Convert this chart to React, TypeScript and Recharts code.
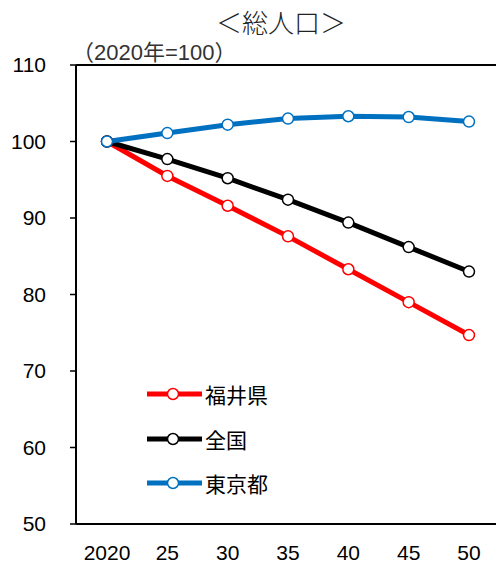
import { LineChart, Line, XAxis, YAxis, ReferenceLine, Legend } from 'recharts'

const years = ['2020', '25', '30', '35', '40', '45', '50']
const fukui = [100, 95.5, 91.6, 87.6, 83.3, 79.0, 74.7]
const zenkoku = [100, 97.7, 95.2, 92.4, 89.4, 86.2, 83.0]
const tokyo = [100, 101.1, 102.2, 103.0, 103.3, 103.2, 102.6]
const yTicks = [50, 60, 70, 80, 90, 100, 110]
const seriesNames = ['福井県', '全国', '東京都']
const seriesColors = ['#ff0000', '#000000', '#0070c0']

const chartData = years.map((year, i) => ({
  year,
  fukui: fukui[i],
  zenkoku: zenkoku[i],
  tokyo: tokyo[i],
}))

const font = '"Liberation Sans", Arial, "Noto Sans CJK JP", sans-serif'

const LegendBox = () => (
  <div style={{ fontFamily: font }}>
    {seriesNames.map((name, i) => (
      <div key={name} style={{ display: 'flex', alignItems: 'center', height: 44.5 }}>
        <svg width={58} height={16}>
          <line x1={0} y1={8} x2={55} y2={8} stroke={seriesColors[i]} strokeWidth={5} />
          <circle cx={26} cy={8} r={5.5} fill="#fff" stroke={seriesColors[i]} strokeWidth={1.5} />
        </svg>
        <span style={{ fontSize: 21, color: '#000' }}>{name}</span>
      </div>
    ))}
  </div>
)

export default function App() {
  return (
    <div style={{ position: 'absolute', left: 0, top: 0, width: 496, height: 563, background: '#fff' }}>
      <div
        style={{
          position: 'absolute',
          left: 216,
          top: 3,
          fontFamily: '"Noto Sans CJK JP", serif',
          fontSize: 26,
          fontWeight: 300,
          color: '#222',
        }}
      >
        ＜総人口＞
      </div>
      <div
        style={{
          position: 'absolute',
          left: 72,
          top: 34,
          fontFamily: font,
          fontSize: 22,
          color: '#333',
        }}
      >
        （2020年=100）
      </div>
      <LineChart
        width={496}
        height={563}
        data={chartData}
        margin={{ top: 65, right: 0, bottom: 0, left: 0 }}
      >
        <XAxis
          dataKey="year"
          padding={{ left: 31, right: 27 }}
          axisLine={{ stroke: '#000', strokeWidth: 2 }}
          tickLine={false}
          tickMargin={15}
          height={39}
          interval={0}
          tick={{ fill: '#000', fontSize: 21, fontFamily: font }}
        />
        <YAxis
          domain={[50, 110]}
          ticks={yTicks}
          width={76}
          axisLine={{ stroke: '#000', strokeWidth: 2 }}
          tickLine={{ stroke: '#000', strokeWidth: 1.5 }}
          tickSize={6}
          tickMargin={24}
          interval={0}
          tick={{ fill: '#000', fontSize: 21, fontFamily: font }}
        />
        <ReferenceLine y={110} stroke="#000" strokeWidth={2} />
        <Legend
          verticalAlign="middle"
          align="center"
          layout="horizontal"
          content={<LegendBox />}
          wrapperStyle={{ left: 147, top: 372, width: 160 }}
        />
        <Line
          dataKey="fukui"
          name={seriesNames[0]}
          stroke={seriesColors[0]}
          strokeWidth={5}
          dot={{ r: 5.5, fill: '#fff', stroke: seriesColors[0], strokeWidth: 1.5 }}
          isAnimationActive={false}
        />
        <Line
          dataKey="zenkoku"
          name={seriesNames[1]}
          stroke={seriesColors[1]}
          strokeWidth={5}
          dot={{ r: 5.5, fill: '#fff', stroke: seriesColors[1], strokeWidth: 1.5 }}
          isAnimationActive={false}
        />
        <Line
          dataKey="tokyo"
          name={seriesNames[2]}
          stroke={seriesColors[2]}
          strokeWidth={5}
          dot={{ r: 5.5, fill: '#fff', stroke: seriesColors[2], strokeWidth: 1.5 }}
          isAnimationActive={false}
        />
      </LineChart>
    </div>
  )
}
